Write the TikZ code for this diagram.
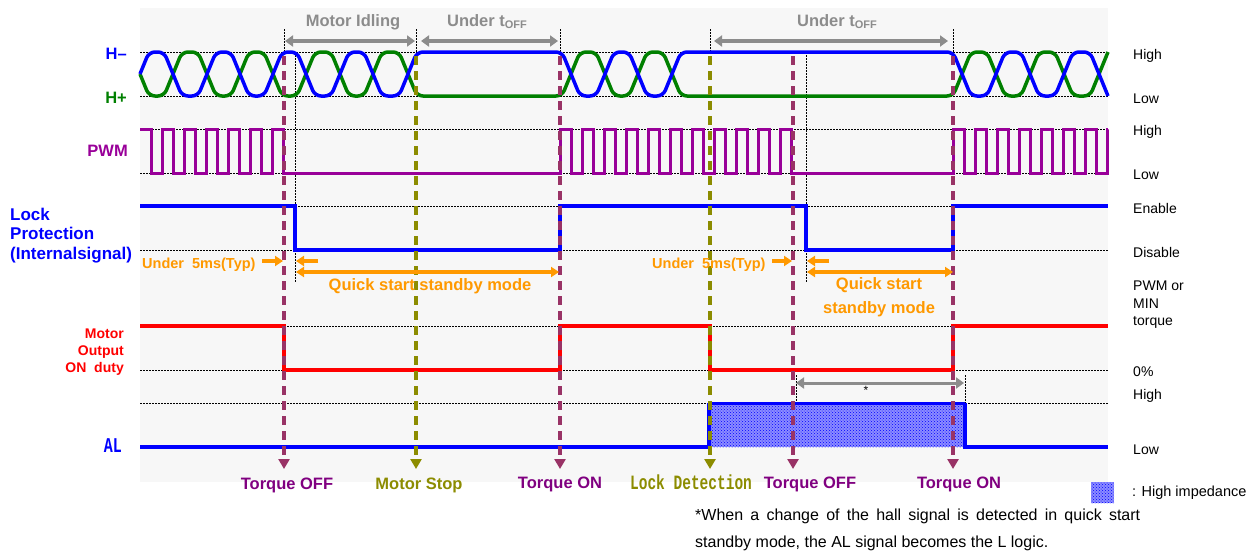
\documentclass[tikz,border=0pt]{standalone}
\usepackage{fontspec}
\setmainfont{Liberation Sans}
\newfontfamily\monof{Liberation Mono}
\usetikzlibrary{arrows.meta,patterns}
\definecolor{hblue}{HTML}{0000FF}
\definecolor{hgreen}{HTML}{008000}
\definecolor{pwmc}{HTML}{990099}
\definecolor{redc}{HTML}{FF0000}
\definecolor{orc}{HTML}{FF9900}
\definecolor{greyc}{HTML}{8C8C8C}
\definecolor{maroonc}{HTML}{993366}
\definecolor{olivec}{HTML}{8C8C00}
\definecolor{tqc}{HTML}{800080}
\definecolor{panelc}{HTML}{F7F7F7}
\begin{document}
\begin{tikzpicture}[x=1pt,y=-1pt,
  dotline/.style={black,line width=1pt,dash pattern=on 1.5pt off 1.5pt},
  sig/.style={line width=3.5pt,line join=miter},
  vdash/.style={line width=4pt,dash pattern=on 9pt off 6pt,-{Triangle[length=10pt,width=11pt]}},
  garrow/.style={greyc,line width=4pt,{Triangle[length=8pt,width=11pt]}-{Triangle[length=8pt,width=11pt]}},
  oarrow/.style={orc,line width=3.5pt,-{Triangle[length=8pt,width=10pt]}},
  big/.style={font=\bfseries\fontsize{16.5}{19}\selectfont,inner sep=0pt},
  mid/.style={font=\bfseries\fontsize{14.5}{17}\selectfont,inner sep=0pt},
  rl/.style={font=\fontsize{14}{17}\selectfont,inner sep=0pt,anchor=base west},
  hiz/.style={fill=blue!45,postaction={pattern=crosshatch dots,pattern color=blue}}
]
\useasboundingbox (0,0) rectangle (1257,552);
\fill[panelc] (140,8) rectangle (1108,482);
% horizontal dotted level lines
\foreach \yy in {52,96,129,173,250,370,403}
  \draw[dotline] (140,\yy) -- (1108,\yy);
\draw[dotline] (295,206) -- (1108,206);
\draw[dotline] (284,326) -- (1108,326);
% vertical dotted lines
\foreach \xx in {284,416,560,710,953}
  \draw[dotline] (\xx,29) -- (\xx,52);
\draw[dotline] (295,52) -- (295,283);
\draw[dotline] (806,52) -- (806,283);
\draw[dotline] (796,375) -- (796,403);
\draw[dotline] (965,375) -- (965,447);
% hall signals
\draw[sig,hgreen,rounded corners=6pt] (140,74) -- (149,96) -- (164,96) -- (182,52) -- (198,52) -- (216,96) -- (231,96) -- (249,52) -- (264,52) -- (282,96) -- (297,96) -- (315,52) -- (331,52) -- (349,96) -- (364,96) -- (382,52) -- (399,52) -- (417,96) -- (562,96) -- (580,52) -- (596,52) -- (614,96) -- (629,96) -- (647,52) -- (663,52) -- (681,96) -- (953,96) -- (971,52) -- (987,52) -- (1005,96) -- (1021,96) -- (1039,52) -- (1055,52) -- (1073,96) -- (1090,96) -- (1108,52);
\draw[sig,hblue,rounded corners=6pt] (140,74) -- (149,52) -- (164,52) -- (182,96) -- (198,96) -- (216,52) -- (231,52) -- (249,96) -- (264,96) -- (282,52) -- (297,52) -- (315,96) -- (331,96) -- (349,52) -- (364,52) -- (382,96) -- (399,96) -- (417,52) -- (562,52) -- (580,96) -- (596,96) -- (614,52) -- (629,52) -- (647,96) -- (663,96) -- (681,52) -- (953,52) -- (971,96) -- (987,96) -- (1005,52) -- (1021,52) -- (1039,96) -- (1055,96) -- (1073,52) -- (1090,52) -- (1108,96);
% PWM
\draw[pwmc,line width=3pt] (140,129)
  foreach \x in {151,173,...,261} { -- (\x,129) -- (\x,173) -- (\x+11,173) -- (\x+11,129) }
  -- (283,129) -- (283,173) -- (560,173) -- (560,129)
  foreach \x in {571,593,...,769} { -- (\x,129) -- (\x,173) -- (\x+11,173) -- (\x+11,129) }
  -- (791,129) -- (791,173) -- (953,173) -- (953,129)
  foreach \x in {964,986,...,1096} { -- (\x,129) -- (\x,173) -- (\x+11,173) -- (\x+11,129) }
  -- (1108,129);
% Lock protection
\draw[sig,hblue] (140,206) -- (295,206) -- (295,250) -- (560,250) -- (560,206) -- (806,206) -- (806,250) -- (953,250) -- (953,206) -- (1108,206);
% Motor output
\draw[sig,redc] (140,326) -- (284,326) -- (284,370) -- (560,370) -- (560,326) -- (710,326) -- (710,370) -- (953,370) -- (953,326) -- (1108,326);
% AL
\path[hiz] (709,403) rectangle (965,447);
\draw[hblue,line width=3pt] (709,403) -- (965,403);
\draw[sig,hblue] (140,447) -- (709,447) -- (709,403);
\draw[sig,hblue] (965,403) -- (965,447) -- (1108,447);
% dashed event lines
\draw[vdash,maroonc] (284,56) -- (284,469);
\draw[vdash,olivec] (416,56) -- (416,469);
\draw[vdash,maroonc] (560,56) -- (560,469);
\draw[vdash,olivec] (710,56) -- (710,469);
\draw[vdash,maroonc] (793,56) -- (793,469);
\draw[vdash,maroonc] (953,56) -- (953,469);
% grey arrows
\coordinate (gA1) at (285,41); \coordinate (gA2) at (415,41);
\coordinate (gB1) at (421,41); \coordinate (gB2) at (558,41);
\coordinate (gC1) at (714,41); \coordinate (gC2) at (948,41);
\coordinate (gD1) at (796,383); \coordinate (gD2) at (964,383);
\draw[garrow] (gA1) -- (gA2);
\draw[garrow] (gB1) -- (gB2);
\draw[garrow] (gC1) -- (gC2);
\draw[garrow,line width=3pt] (gD1) -- (gD2);
% orange arrows
\coordinate (o1a) at (262,261); \coordinate (o1b) at (283,261);
\coordinate (o2a) at (318,261); \coordinate (o2b) at (296,261);
\coordinate (o3a) at (296,272); \coordinate (o3b) at (559,272);
\coordinate (o4a) at (772,261); \coordinate (o4b) at (792,261);
\coordinate (o5a) at (829,261); \coordinate (o5b) at (807,261);
\coordinate (o6a) at (807,272); \coordinate (o6b) at (953,272);
\draw[oarrow] (o1a) -- (o1b);
\draw[oarrow] (o2a) -- (o2b);
\draw[oarrow,{Triangle[length=8pt,width=10pt]}-{Triangle[length=8pt,width=10pt]}] (o3a) -- (o3b);
\draw[oarrow] (o4a) -- (o4b);
\draw[oarrow] (o5a) -- (o5b);
\draw[oarrow,{Triangle[length=8pt,width=10pt]}-{Triangle[length=8pt,width=10pt]}] (o6a) -- (o6b);
% top labels
\node[big,greyc,anchor=base] (tIdle) at (353,26) {Motor Idling};
\node[big,greyc,anchor=base] (tOff1) at (487,26) {Under t\raisebox{-0.3ex}{\fontsize{11}{12}\selectfont OFF}};
\node[big,greyc,anchor=base] (tOff2) at (837,26) {Under t\raisebox{-0.3ex}{\fontsize{11}{12}\selectfont OFF}};
% left labels
\node[big,hblue,anchor=base east] (lHm) at (127,59) {H\textendash};
\node[big,hgreen,anchor=base east] (lHp) at (127,103) {H+};
\node[big,pwmc,anchor=base east] (lPWM) at (128,156) {PWM};
\node[big,hblue,anchor=base west,font=\bfseries\fontsize{17}{19}\selectfont] (lLock1) at (10,220) {Lock};
\node[big,hblue,anchor=base west,font=\bfseries\fontsize{17}{19}\selectfont] (lLock2) at (10,239.5) {Protection};
\node[big,hblue,anchor=base west,font=\bfseries\fontsize{17}{19}\selectfont] (lLock3) at (10,259) {(Internalsignal)};
\node[mid,redc,anchor=base east,font=\bfseries\fontsize{14}{17}\selectfont] (lMo1) at (124,338) {Motor};
\node[mid,redc,anchor=base east,font=\bfseries\fontsize{14}{17}\selectfont] (lMo2) at (124,355) {Output};
\node[mid,redc,anchor=base east,font=\bfseries\fontsize{14}{17}\selectfont] (lMo3) at (124,372) {ON\ \ duty};
\node[inner sep=0pt,hblue,anchor=base east,font=\monof\bfseries\fontsize{15}{17}\selectfont] (lAL) at (122,452.5) {\scalebox{1}[1.4]{AL}};
% orange labels
\node[mid,orc,anchor=base west] (u5a) at (142,268) {Under\ \ 5ms(Typ)};
\node[mid,orc,anchor=base west] (u5b) at (652,268) {Under\ \ 5ms(Typ)};
\node[big,orc,anchor=base] (qs1) at (430,290) {Quick start standby mode};
\node[big,orc,anchor=base] (qs2a) at (879,289) {Quick start};
\node[big,orc,anchor=base] (qs2b) at (879,313) {standby mode};
\node[inner sep=0pt,anchor=base,font=\fontsize{12}{14}\selectfont] (ast) at (866,394) {*};
% bottom labels
\node[big,tqc,anchor=base] (bT1) at (287,489) {Torque OFF};
\node[big,olivec,anchor=base] (bMS) at (419,489) {Motor Stop};
\node[big,tqc,anchor=base] (bT2) at (560,488) {Torque ON};
\node[inner sep=0pt,olivec,anchor=base,font=\monof\bfseries\fontsize{14.5}{17}\selectfont] (bLD) at (691,489.5) {\scalebox{1}[1.4]{Lock Detection}};
\node[big,tqc,anchor=base] (bT3) at (810,488) {Torque OFF};
\node[big,tqc,anchor=base] (bT4) at (959,488) {Torque ON};
% right labels
\node[rl] (r1) at (1133,59) {High};
\node[rl] (r2) at (1133,103) {Low};
\node[rl] (r3) at (1133,135) {High};
\node[rl] (r4) at (1133,179) {Low};
\node[rl] (r5) at (1133,213) {Enable};
\node[rl] (r6) at (1133,257) {Disable};
\node[rl] (r7) at (1133,290) {PWM or};
\node[rl] (r8) at (1133,308) {MIN};
\node[rl] (r9) at (1133,325) {torque};
\node[rl] (r10) at (1133,376) {0\%};
\node[rl] (r11) at (1133,399) {High};
\node[rl] (r12) at (1133,454) {Low};
% legend
\path[hiz] (1091,482) rectangle (1114,503);
\node[rl,font=\fontsize{14.5}{17}\selectfont] (leg) at (1132,496) {: High impedance};
\node[rl,font=\fontsize{16}{18}\selectfont] (fn1) at (695,520.5) {\makebox[445pt][s]{*When a change of the hall signal is detected in quick start}};
\node[rl,font=\fontsize{16}{18}\selectfont] (fn2) at (695,547.5) {standby mode, the AL signal becomes the L logic.};
\end{tikzpicture}
\end{document}
